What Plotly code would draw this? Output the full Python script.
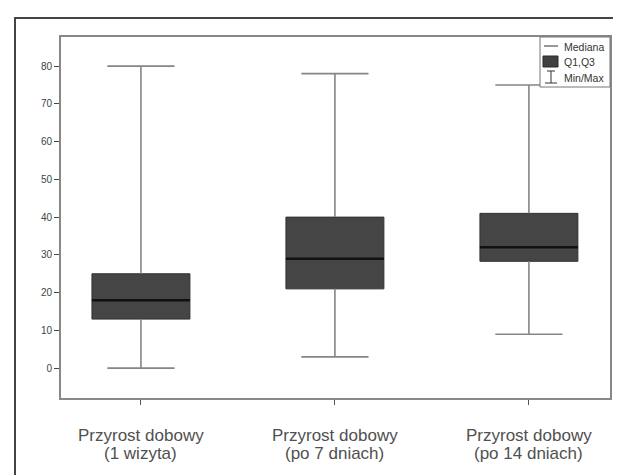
import plotly.graph_objects as go

# ---- data ----
cat_line1 = ["Przyrost dobowy", "Przyrost dobowy", "Przyrost dobowy"]
cat_line2 = ["(1 wizyta)", "(po 7 dniach)", "(po 14 dniach)"]
positions = [0, 1, 2]
mins = [0, 3, 9]
q1s = [13, 21, 28.3]
medians = [18, 29, 32]
q3s = [25, 40, 41]
maxs = [80, 78, 75]
y_ticks = [0, 10, 20, 30, 40, 50, 60, 70, 80]
legend_labels = ["Mediana", "Q1,Q3", "Min/Max"]

BOX_W = 0.505
W, H = 621, 475
L, R, T, B = 53, 19, 29, 85
pw = W - L - R
ph = H - T - B
WHISK = "#858585"


def px(xpix):
    return (xpix - L) / pw


def py(ypix):
    return (H - B - ypix) / ph


fig = go.Figure()

# boxes Q1-Q3
fig.add_trace(go.Box(
    x=positions, q1=q1s, median=medians, q3=q3s,
    lowerfence=q1s, upperfence=q3s,
    width=BOX_W, fillcolor="#454545",
    line=dict(color="#333333", width=1),
    whiskerwidth=0, showlegend=False, hoverinfo="skip"))

# upper whiskers
fig.add_trace(go.Scatter(
    x=positions, y=q3s, mode="markers",
    marker=dict(size=1, color="rgba(0,0,0,0)"),
    error_y=dict(type="data", symmetric=False,
                 array=[mx - q for mx, q in zip(maxs, q3s)],
                 arrayminus=[0, 0, 0],
                 color=WHISK, thickness=1.6, width=0),
    showlegend=False, hoverinfo="skip"))
# lower whiskers
fig.add_trace(go.Scatter(
    x=positions, y=q1s, mode="markers",
    marker=dict(size=1, color="rgba(0,0,0,0)"),
    error_y=dict(type="data", symmetric=False,
                 array=[0, 0, 0],
                 arrayminus=[q - mn for q, mn in zip(q1s, mins)],
                 color=WHISK, thickness=1.6, width=0),
    showlegend=False, hoverinfo="skip"))
# caps
fig.add_trace(go.Scatter(
    x=positions + positions, y=mins + maxs, mode="markers",
    marker=dict(symbol="line-ew", size=48, color=WHISK,
                line=dict(width=1.6, color=WHISK)),
    showlegend=False, hoverinfo="skip"))

# medians
fig.add_trace(go.Scatter(
    x=positions, y=medians, mode="markers",
    marker=dict(size=1, color="rgba(0,0,0,0)"),
    error_x=dict(type="constant", value=BOX_W / 2, color="#111111",
                 thickness=2.5, width=0),
    showlegend=False, hoverinfo="skip"))

# outer frame
fig.add_shape(type="rect", xref="paper", yref="paper",
              x0=px(7), x1=1.3, y0=-0.5, y1=py(10),
              line=dict(color="#444444", width=2), layer="below")

# manual legend
fig.add_shape(type="rect", xref="paper", yref="paper",
              x0=px(532), x1=px(602), y0=py(79), y1=py(29),
              line=dict(color="#777777", width=1), fillcolor="white", layer="above")
fig.add_shape(type="line", xref="paper", yref="paper",
              x0=px(536), x1=px(550), y0=py(38), y1=py(38),
              line=dict(color="#333333", width=1), layer="above")
fig.add_shape(type="rect", xref="paper", yref="paper",
              x0=px(535), x1=px(550), y0=py(59), y1=py(48),
              line=dict(color="#2a2a2a", width=1), fillcolor="#404040", layer="above")
fig.add_shape(type="line", xref="paper", yref="paper",
              x0=px(543), x1=px(543), y0=py(75), y1=py(63),
              line=dict(color="#333333", width=1), layer="above")
fig.add_shape(type="line", xref="paper", yref="paper",
              x0=px(539), x1=px(547), y0=py(63), y1=py(63),
              line=dict(color="#333333", width=1), layer="above")
fig.add_shape(type="line", xref="paper", yref="paper",
              x0=px(537), x1=px(549), y0=py(75), y1=py(75),
              line=dict(color="#333333", width=1), layer="above")
for lbl, yp in zip(legend_labels, [39, 54, 70]):
    fig.add_annotation(x=px(554), y=py(yp), xref="paper", yref="paper",
                       text=lbl, showarrow=False, xanchor="left", yanchor="middle",
                       font=dict(family="Liberation Sans", size=10.5, color="#333333"))

# category labels (two lines)
for pos, l1, l2 in zip(positions, cat_line1, cat_line2):
    fig.add_annotation(x=pos, y=py(428), xref="x", yref="paper", text=l1,
                       showarrow=False, xanchor="center", yanchor="middle",
                       font=dict(family="Liberation Sans", size=17, color="#505050"))
    fig.add_annotation(x=pos, y=py(445), xref="x", yref="paper", text=l2,
                       showarrow=False, xanchor="center", yanchor="middle",
                       font=dict(family="Liberation Sans", size=17, color="#505050"))

fig.update_layout(
    width=W, height=H, autosize=False,
    margin=dict(l=L, r=R, t=T, b=B, pad=0),
    paper_bgcolor="white", plot_bgcolor="white",
    showlegend=False,
    font=dict(family="Liberation Sans", color="#444444"),
)

fig.update_yaxes(range=[-7.9, 87.7], tickvals=y_ticks,
                 ticks="outside", ticklen=5, tickcolor="#444444", tickwidth=1,
                 showgrid=False, zeroline=False,
                 showline=True, linecolor="#888888", linewidth=2, mirror=True,
                 tickfont=dict(family="Liberation Sans", size=10, color="#444444"))
fig.update_xaxes(range=[-0.412, 2.418], tickvals=positions, showticklabels=False,
                 ticks="outside", ticklen=5, tickcolor="#555555", tickwidth=1,
                 showgrid=False, zeroline=False,
                 showline=True, linecolor="#888888", linewidth=2, mirror=True)

fig.write_html("out.html")
